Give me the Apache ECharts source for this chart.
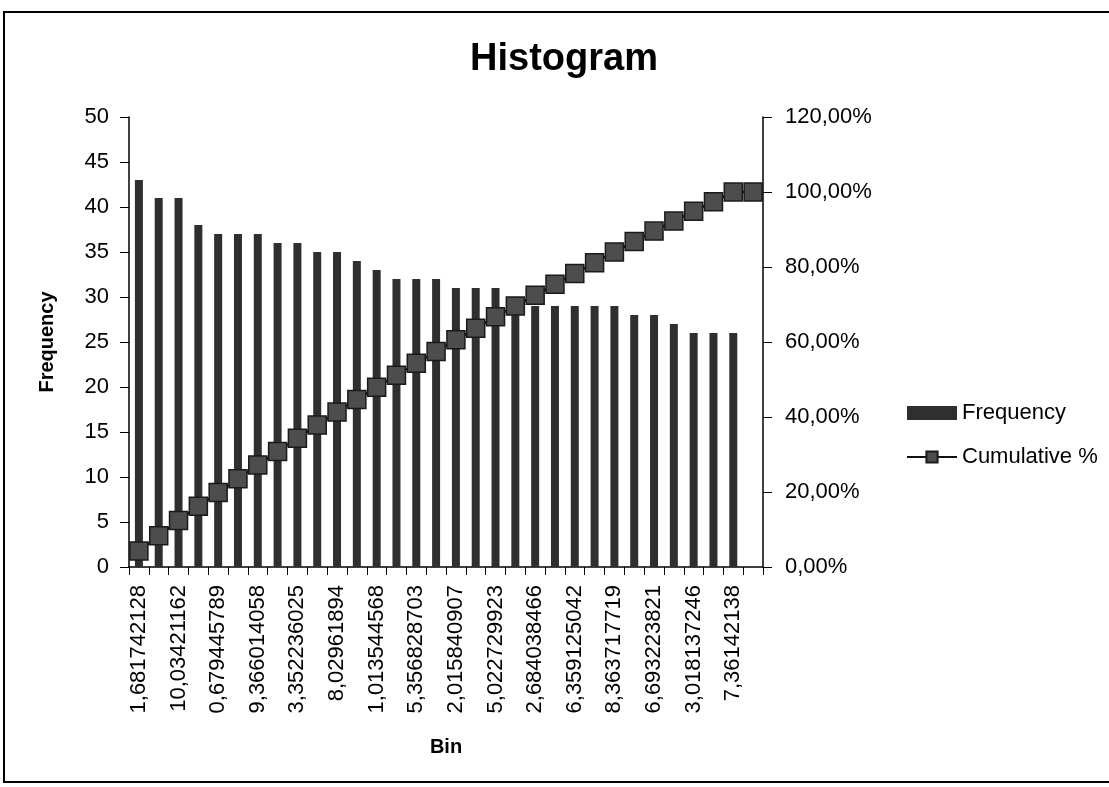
<!DOCTYPE html>
<html>
<head>
<meta charset="utf-8">
<script src="https://cdn.jsdelivr.net/npm/echarts@6/dist/echarts.min.js"></script>
<style>
html,body{margin:0;padding:0;background:#fff;}
#chart{width:1109px;height:787px;}
</style>
</head>
<body>
<div id="chart"></div>
<script>
// Bin labels (only every other one is legible/shown in the reference; hidden ones left blank)
var categories = [
  '1,681742128','', '10,03421162','', '0,679445789','', '9,366014058','',
  '3,352236025','', '8,02961894','', '1,013544568','', '5,356828703','',
  '2,015840907','', '5,022729923','', '2,684038466','', '6,359125042','',
  '8,363717719','', '6,693223821','', '3,018137246','', '7,36142138','More'
];
// Frequency per bin
var frequency = [43,41,41,38,37,37,37,36,36,35,35,34,33,32,32,32,
                 31,31,31,29,29,29,29,29,29,28,28,27,26,26,26,0];
// Cumulative %
var cumulative = [4.27,8.34,12.41,16.19,19.86,23.54,27.21,30.78,34.36,37.84,41.31,44.69,47.96,51.14,54.32,57.50,
                  60.58,63.65,66.73,69.61,72.49,75.37,78.25,81.13,84.01,86.79,89.57,92.25,94.84,97.42,100,100];
var leftTicks = {min:0, max:50, interval:5};
var rightTicks = {min:0, max:120, interval:20};

var FONT = '"Liberation Sans", Arial, sans-serif';
var chart = echarts.init(document.getElementById('chart'), null, {renderer:'canvas'});
chart.setOption({
  backgroundColor:'#fff',
  animation:false,
  title:{
    text:'Histogram', left:465, top:36,
    textStyle:{fontFamily:FONT, fontSize:38, fontWeight:'bold', color:'#000'}
  },
  graphic:[{
    type:'rect', shape:{x:4, y:12, width:1112, height:770},
    style:{fill:'none', stroke:'#000', lineWidth:2}, silent:true
  }],
  legend:{
    orient:'vertical', left:901, top:397, itemWidth:50, itemHeight:14, itemGap:22,
    textStyle:{fontFamily:FONT, fontSize:22, color:'#000'},
    data:[{name:'Frequency', icon:'rect'}, {name:'Cumulative %'}]
  },
  grid:{left:129, right:346, top:117, bottom:220, containLabel:false},
  xAxis:{
    type:'category', data:categories, boundaryGap:true,
    name:'Bin', nameLocation:'middle', nameGap:170,
    nameTextStyle:{fontFamily:FONT, fontSize:20, fontWeight:'bold', color:'#000'},
    axisLine:{show:true, lineStyle:{color:'#000', width:1.5}},
    axisTick:{show:true, interval:0, length:8, lineStyle:{color:'#000'}},
    axisLabel:{interval:1, rotate:90, margin:18, fontFamily:FONT, fontSize:22, color:'#000'},
    splitLine:{show:false}
  },
  yAxis:[{
    type:'value', min:leftTicks.min, max:leftTicks.max, interval:leftTicks.interval,
    name:'Frequency', nameLocation:'middle', nameGap:72, nameRotate:90,
    nameTextStyle:{fontFamily:FONT, fontSize:20, fontWeight:'bold', color:'#000'},
    axisLine:{show:true, lineStyle:{color:'#000', width:1.5}},
    axisTick:{show:true, length:9, lineStyle:{color:'#000'}},
    axisLabel:{margin:20, fontFamily:FONT, fontSize:22, color:'#000'},
    splitLine:{show:false}
  },{
    type:'value', min:rightTicks.min, max:rightTicks.max, interval:rightTicks.interval, position:'right',
    axisLine:{show:true, lineStyle:{color:'#000', width:1.5}},
    axisTick:{show:true, length:9, lineStyle:{color:'#000'}},
    axisLabel:{margin:22, fontFamily:FONT, fontSize:22, color:'#000',
      formatter:function(v){return v.toFixed(2).replace('.', ',') + '%';}},
    splitLine:{show:false}
  }],
  series:[{
    name:'Frequency', type:'bar', data:frequency, barWidth:8,
    itemStyle:{color:'#2f2f2f'}
  },{
    name:'Cumulative %', type:'line', yAxisIndex:1, data:cumulative,
    symbol:'rect', symbolSize:18, showSymbol:true, showAllSymbol:true,
    lineStyle:{color:'#111', width:2.5},
    itemStyle:{color:'#4d4d4d', borderColor:'#1a1a1a', borderWidth:1.5}
  }]
});
</script>
</body>
</html>
